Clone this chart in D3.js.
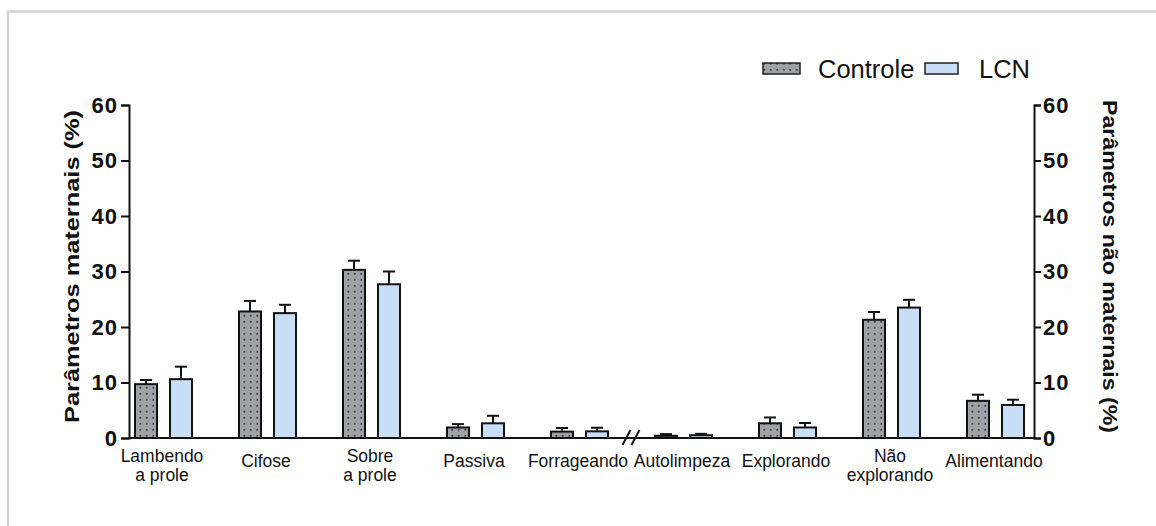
<!DOCTYPE html>
<html>
<head>
<meta charset="utf-8">
<script src="https://cdn.jsdelivr.net/npm/d3@7"></script>
<style>
  body { margin: 0; background: #fff; }
  text { font-family: "Liberation Sans", Arial, sans-serif; fill: #111; }
</style>
</head>
<body>
<div id="grafico"></div>
<script>
// datos
var categorias = ["Lambendo a prole", "Cifose", "Sobre a prole", "Passiva", "Forrageando",
                  "Autolimpeza", "Explorando", "Não explorando", "Alimentando"];
var etiquetas = [["Lambendo", "a prole"], ["Cifose"], ["Sobre", "a prole"], ["Passiva"], ["Forrageando"],
                 ["Autolimpeza"], ["Explorando"], ["Não", "explorando"], ["Alimentando"]];
var series = ["Controle", "LCN"];
var controle = [9.7, 22.8, 30.3, 1.9, 1.15, 0.4, 2.65, 21.3, 6.7];
var controleErro = [0.75, 1.9, 1.65, 0.6, 0.65, 0.3, 1.05, 1.4, 1.1];
var lcn = [10.6, 22.5, 27.7, 2.65, 1.2, 0.5, 1.9, 23.5, 5.95];
var lcnErro = [2.25, 1.5, 2.3, 1.35, 0.65, 0.25, 0.8, 1.4, 0.95];
var ticksY = [0, 10, 20, 30, 40, 50, 60];
var tituloIzq = "Parâmetros maternais (%)";
var tituloDer = "Parâmetros não maternais (%)";

var ancho = 1156, altura = 526;
var colores = { "Controle": "url(#puntos)", "LCN": "#c8ddf6" };

var svg = d3.select("#grafico")
  .append("svg")
    .attr("width", ancho)
    .attr("height", altura);

// patron de puntos para Controle
var patron = svg.append("defs").append("pattern")
  .attr("id", "puntos")
  .attr("patternUnits", "userSpaceOnUse")
  .attr("width", 6.5)
  .attr("height", 6)
patron.append("rect").attr("width", 6.5).attr("height", 6).attr("fill", "#a0a0a7")
patron.append("rect").attr("x", 3).attr("y", 3).attr("width", 1.6).attr("height", 1.6).attr("fill", "#2e2e33")

// marco gris
svg.append("path")
  .attr("d", "M8,526 V11.5 H1156")
  .attr("fill", "none")
  .attr("stroke", "#d2d2d2")
  .attr("stroke-width", 2.5)

// escalas
var x = d3.scaleBand()
  .domain(categorias)
  .range([111, 1047]);
var xSub = d3.scaleBand()
  .domain(series)
  .range([-28, 29])
  .paddingInner(0.371);
var y = d3.scaleLinear()
  .domain([0, 60])
  .range([438, 105]);

var datos = [];
categorias.forEach(function(c, i) {
  datos.push({cat: c, serie: "Controle", valor: controle[i], error: controleErro[i]});
  datos.push({cat: c, serie: "LCN", valor: lcn[i], error: lcnErro[i]});
});
function centro(d) { return x(d.cat) + x.bandwidth() / 2; }

// barras de error (solo hacia arriba)
var errores = svg.append("g")
  .attr("stroke", "#111")
  .attr("stroke-width", 2);
errores.selectAll("line.v")
  .data(datos).enter()
  .append("line")
    .attr("x1", function(d) { return centro(d) + xSub(d.serie) + xSub.bandwidth() / 2 })
    .attr("x2", function(d) { return centro(d) + xSub(d.serie) + xSub.bandwidth() / 2 })
    .attr("y1", function(d) { return y(d.valor) })
    .attr("y2", function(d) { return y(d.valor + d.error) });
errores.selectAll("line.c")
  .data(datos).enter()
  .append("line")
    .attr("x1", function(d) { return centro(d) + xSub(d.serie) + xSub.bandwidth() / 2 - 6 })
    .attr("x2", function(d) { return centro(d) + xSub(d.serie) + xSub.bandwidth() / 2 + 6 })
    .attr("y1", function(d) { return y(d.valor + d.error) })
    .attr("y2", function(d) { return y(d.valor + d.error) });

// barras
svg.append("g").selectAll("rect")
  .data(datos).enter()
  .append("rect")
    .attr("x", function(d) { return centro(d) + xSub(d.serie) })
    .attr("y", function(d) { return y(d.valor) })
    .attr("width", xSub.bandwidth())
    .attr("height", function(d) { return y(0) - y(d.valor) })
    .attr("fill", function(d) { return colores[d.serie] })
    .attr("stroke", "#111")
    .attr("stroke-width", 2);

// eje x (linea base)
svg.append("line")
  .attr("x1", 129).attr("x2", 1034)
  .attr("y1", y(0)).attr("y2", y(0))
  .attr("stroke", "#111")
  .attr("stroke-width", 2);

// marca de corte entre Forrageando y Autolimpeza
var corte = (centro({cat: "Forrageando"}) + centro({cat: "Autolimpeza"})) / 2;
[-4.5, 4.5].forEach(function(dx) {
  svg.append("line")
    .attr("x1", corte + dx - 4).attr("y1", y(0) + 7)
    .attr("x2", corte + dx + 4).attr("y2", y(0) - 8)
    .attr("stroke", "#111")
    .attr("stroke-width", 2);
});

// etiquetas del eje x
var etq = svg.append("g")
  .style("font-size", "17.5px")
  .attr("text-anchor", "middle");
categorias.forEach(function(c, i) {
  var lineas = etiquetas[i];
  var t = etq.append("text")
    .attr("x", x(c) + x.bandwidth() / 2 - 1)
    .attr("y", lineas.length == 1 ? 467 : 462);
  lineas.forEach(function(l, j) {
    t.append("tspan")
      .attr("x", x(c) + x.bandwidth() / 2 - 1)
      .attr("dy", j == 0 ? 0 : 19)
      .text(l);
  });
});

// eje vertical izquierdo
var ejeIzq = svg.append("g")
  .attr("transform", "translate(129,0)")
  .call(d3.axisLeft(y).tickValues(ticksY).tickSize(8).tickPadding(3));
// eje vertical derecho
var ejeDer = svg.append("g")
  .attr("transform", "translate(1034,0)")
  .call(d3.axisRight(y).tickValues(ticksY).tickSize(7).tickPadding(2));
[ejeIzq, ejeDer].forEach(function(e) {
  e.select(".domain").attr("stroke", "#111").attr("stroke-width", 2);
  e.selectAll(".tick line").attr("stroke", "#111").attr("stroke-width", 2);
  e.selectAll(".tick text")
    .attr("fill", "#111")
    .style("font-family", "'Liberation Sans', Arial, sans-serif")
    .style("font-size", "22px")
    .style("font-weight", "bold")
    .style("letter-spacing", "1px");
});

// titulos de los ejes
svg.append("text")
  .attr("transform", "translate(79,266.5) rotate(-90)")
  .attr("text-anchor", "middle")
  .attr("textLength", 313)
  .attr("lengthAdjust", "spacingAndGlyphs")
  .style("font-size", "21px")
  .style("font-weight", "bold")
  .text(tituloIzq);
svg.append("text")
  .attr("transform", "translate(1103,266.5) rotate(90)")
  .attr("text-anchor", "middle")
  .attr("textLength", 333)
  .attr("lengthAdjust", "spacingAndGlyphs")
  .style("font-size", "21px")
  .style("font-weight", "bold")
  .text(tituloDer);

// leyenda
var posLeyenda = [763, 925];
var leyenda = svg.append("g");
series.forEach(function(s, i) {
  leyenda.append("rect")
    .attr("x", posLeyenda[i]).attr("y", 63)
    .attr("width", i == 0 ? 37 : 33).attr("height", 11)
    .attr("fill", colores[s])
    .attr("stroke", "#222")
    .attr("stroke-width", 1.5);
  leyenda.append("text")
    .attr("x", posLeyenda[i] + (i == 0 ? 55 : 54))
    .attr("y", 77.5)
    .style("font-size", "25.5px")
    .text(s);
});
</script>
</body>
</html>
